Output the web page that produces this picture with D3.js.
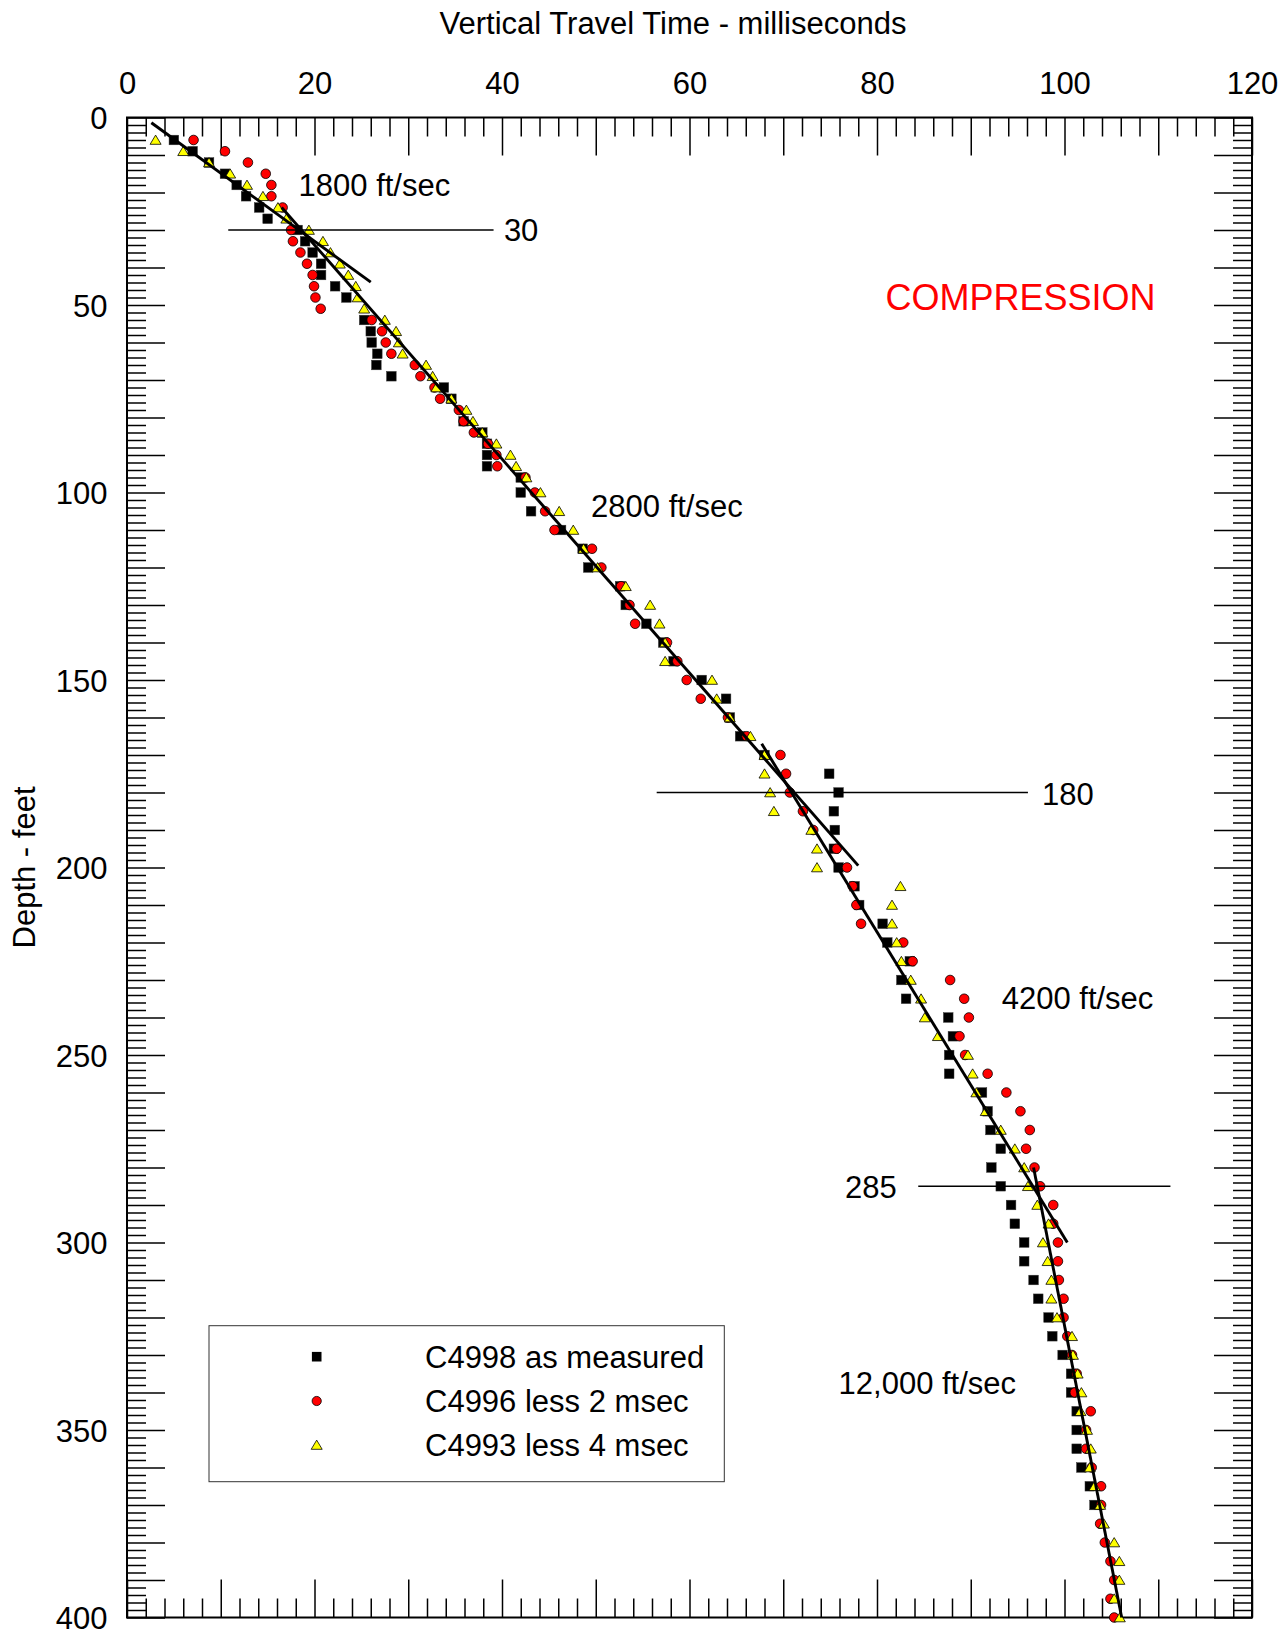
<!DOCTYPE html>
<html>
<head>
<meta charset="utf-8">
<script src="https://cdn.jsdelivr.net/npm/d3@7"></script>
<style>
  html, body { margin: 0; padding: 0; background: #ffffff; }
  svg { display: block; font-family: "Liberation Sans", Arial, Helvetica, sans-serif; }
</style>
</head>
<body>
<svg id="chart" width="1288" height="1631"></svg>
<script>
// ---- Data: [depth (ft), vertical travel time (ms)] ----
const c4998 = [
  [6,5.0],[9,7.0],[12,8.75],[15,10.45],[18,11.7],[21,12.7],[24,14.1],[27,15.0],[30,18.2],[33,19.0],
  [36,19.8],[39,20.7],[42,20.7],[45,22.2],[48,23.4],[54,25.3],[57,26.0],[60,26.1],[63,26.7],[66,26.6],
  [69,28.2],[72,33.8],[75,34.6],[81,35.9],[84,37.9],[87,38.4],[90,38.4],[93,38.4],[96,42.0],[100,42.0],
  [105,43.1],[110,46.3],[115,48.6],[120,49.2],[125,52.6],[130,53.2],[135,55.4],[140,57.2],[145,58.3],[150,61.3],
  [155,63.9],[160,64.3],[165,65.4],[170,68.0],[175,74.9],[180,75.9],[185,75.4],[190,75.5],[195,75.4],[200,75.9],
  [205,77.6],[210,78.1],[215,80.6],[220,81.1],[225,83.5],[230,82.6],[235,83.1],[240,87.6],[245,88.1],[250,87.7],
  [255,87.7],[260,91.2],[265,91.8],[270,92.1],[275,93.2],[280,92.2],[285,93.2],[290,94.3],[295,94.7],[300,95.7],
  [305,95.7],[310,96.7],[315,97.2],[320,98.3],[325,98.7],[330,99.8],[335,100.7],[340,100.7],[345,101.3],[350,101.3],
  [355,101.3],[360,101.8],[365,102.7],[370,103.2]
];

const c4996 = [
  [6,7.1],[9,10.45],[12,12.9],[15,14.8],[18,15.4],[21,15.4],[24,16.6],[30,17.5],[33,17.7],[36,18.5],
  [39,19.2],[42,19.8],[45,19.95],[48,20.1],[51,20.66],[54,26.1],[57,27.2],[60,27.6],[63,28.2],[66,30.7],
  [69,31.3],[72,32.8],[75,33.4],[78,35.4],[81,35.9],[84,37.0],[87,38.5],[90,39.4],[93,39.5],[96,42.5],
  [100,43.5],[105,44.6],[110,45.6],[115,49.6],[120,50.6],[125,52.7],[130,53.6],[135,54.2],[140,57.6],[145,58.7],
  [150,59.7],[155,61.2],[160,64.1],[165,66.1],[170,69.7],[175,70.3],[180,70.7],[185,72.1],[190,73.2],[195,75.7],
  [200,76.8],[205,77.4],[210,77.8],[215,78.3],[220,82.8],[225,83.8],[230,87.8],[235,89.3],[240,89.8],[245,88.8],
  [250,89.4],[255,91.8],[260,93.8],[265,95.3],[270,96.3],[275,95.9],[280,96.8],[285,97.4],[290,98.8],[295,98.8],
  [300,99.3],[305,99.3],[310,99.4],[315,99.9],[320,99.9],[325,100.3],[330,100.8],[335,101.3],[340,101.1],[345,102.8],
  [350,102.3],[355,102.3],[360,102.9],[365,103.9],[370,103.9],[375,103.8],[380,104.3],[385,104.9],[390,105.3],[395,104.9],
  [400,105.3]
];

const c4993 = [
  [6,3.05],[9,6.0],[12,8.75],[15,11.0],[18,12.8],[21,14.5],[24,16.1],[27,17.0],[30,19.4],[33,20.9],
  [36,21.7],[39,22.7],[42,23.6],[45,24.4],[48,24.6],[51,25.3],[54,27.5],[57,28.7],[60,29.0],[63,29.4],
  [66,31.9],[69,32.6],[72,33.0],[75,34.6],[78,36.2],[81,36.9],[84,37.9],[87,39.4],[90,40.9],[93,41.5],
  [96,42.6],[100,44.1],[105,46.1],[110,47.6],[115,48.7],[120,50.2],[125,53.2],[130,55.8],[135,56.8],[140,57.4],
  [145,57.4],[150,62.4],[155,62.9],[160,64.3],[165,66.5],[170,68.0],[175,68.0],[180,68.6],[185,69.0],[190,73.0],
  [195,73.6],[200,73.6],[205,82.5],[210,81.6],[215,81.6],[220,82.1],[225,82.6],[230,83.6],[235,84.7],[240,85.1],
  [245,86.5],[250,89.7],[255,90.2],[260,90.6],[265,91.6],[270,93.2],[275,94.7],[280,95.7],[285,96.1],[290,97.1],
  [295,98.3],[300,97.7],[305,98.2],[310,98.6],[315,98.6],[320,99.2],[325,100.8],[330,100.9],[335,101.4],[340,101.8],
  [345,101.7],[350,102.4],[355,102.8],[360,102.7],[365,103.2],[370,103.8],[375,104.2],[380,105.3],[385,105.85],[390,105.85],
  [395,105.3],[400,105.9]
];

const seriesNames = ["C4998 as measured", "C4996 less 2 msec", "C4993 less 4 msec"];

// Interval velocity fits: [time (ms), depth (ft)] end points
const fitNames = ["1800 ft/sec", "2800 ft/sec", "4200 ft/sec", "12,000 ft/sec"];
const fitLines = [
  [[2.6, 1.4], [26.0, 43.9]],
  [[16.5, 24.0], [78.0, 199.5]],
  [[67.7, 167.0], [100.3, 300.0]],
  [[96.7, 280.0], [106.1, 400.0]]
];

// Layer boundaries (ft) and the time span each marker line covers (ms)
const boundaryDepths = [30, 180, 285];
const boundarySpans = [[10.8, 39.1], [56.5, 96.1], [84.4, 111.3]];

// Axis tick labels
const timeTickLabels = [0, 20, 40, 60, 80, 100, 120];
const depthTickLabels = [0, 50, 100, 150, 200, 250, 300, 350, 400];

// ---- Layout ----
const FONT = 31;
const plot = { left: 127, right: 1252, top: 117.5, bottom: 1617.5 };

const x = d3.scaleLinear().domain([0, 120]).range([plot.left, plot.right]);
const y = d3.scaleLinear().domain([0, 400]).range([plot.top, plot.bottom]);

const svg = d3.select("#chart");
svg.append("rect").attr("width", 1288).attr("height", 1631).attr("fill", "#ffffff");

// ---- Axes: inward ticks on all four sides ----
function styleAxis(g) {
  g.select(".domain").remove();
  g.attr("font-family", null).attr("font-size", null);
  g.selectAll(".tick line").attr("stroke", "#000").attr("stroke-width", 1.5);
  g.selectAll(".tick text").attr("fill", "#000").attr("font-size", FONT);
}

const minorTime = d3.range(0, 121, 2).filter(v => v % 10 !== 0);
const majorTime = d3.range(0, 121, 10);
const minorDepth = d3.range(0, 401, 2).filter(v => v % 10 !== 0);
const majorDepth = d3.range(0, 401, 10);

// top
svg.append("g").attr("transform", `translate(0,${plot.top})`)
  .call(d3.axisTop(x).tickValues(minorTime).tickSize(-19).tickFormat(""))
  .call(styleAxis);
svg.append("g").attr("transform", `translate(0,${plot.top})`)
  .call(d3.axisTop(x).tickValues(majorTime).tickSize(-38).tickPadding(23.5)
    .tickFormat(v => timeTickLabels.includes(v) ? String(v) : ""))
  .call(styleAxis);

// bottom
svg.append("g").attr("transform", `translate(0,${plot.bottom})`)
  .call(d3.axisBottom(x).tickValues(minorTime).tickSize(-19).tickFormat(""))
  .call(styleAxis);
svg.append("g").attr("transform", `translate(0,${plot.bottom})`)
  .call(d3.axisBottom(x).tickValues(majorTime).tickSize(-38).tickFormat(""))
  .call(styleAxis);

// left
svg.append("g").attr("transform", `translate(${plot.left},0)`)
  .call(d3.axisLeft(y).tickValues(minorDepth).tickSize(-19).tickFormat(""))
  .call(styleAxis);
svg.append("g").attr("transform", `translate(${plot.left},0)`)
  .call(d3.axisLeft(y).tickValues(majorDepth).tickSize(-38).tickPadding(19.5)
    .tickFormat(v => depthTickLabels.includes(v) ? String(v) : ""))
  .call(styleAxis)
  .call(g => g.selectAll(".tick text").attr("dy", "0.36em"));

// right
svg.append("g").attr("transform", `translate(${plot.right},0)`)
  .call(d3.axisRight(y).tickValues(minorDepth).tickSize(-19).tickFormat(""))
  .call(styleAxis);
svg.append("g").attr("transform", `translate(${plot.right},0)`)
  .call(d3.axisRight(y).tickValues(majorDepth).tickSize(-38).tickFormat(""))
  .call(styleAxis);

// frame
svg.append("rect")
  .attr("x", plot.left).attr("y", plot.top)
  .attr("width", plot.right - plot.left).attr("height", plot.bottom - plot.top)
  .attr("fill", "none").attr("stroke", "#000").attr("stroke-width", 2);

// axis titles
svg.append("text")
  .attr("x", 673).attr("y", 33.5)
  .attr("text-anchor", "middle").attr("font-size", FONT)
  .text("Vertical Travel Time - milliseconds");

svg.append("text")
  .attr("transform", `translate(35,${(plot.top + plot.bottom) / 2}) rotate(-90)`)
  .attr("text-anchor", "middle").attr("font-size", FONT)
  .text("Depth - feet");

// ---- Markers ----
const SQ = 9.6, CR = 4.8, TW = 11, TH = 9.2;
const triPath = `M0,${-TH / 2 - 0.3}L${TW / 2},${TH / 2 - 0.3}L${-TW / 2},${TH / 2 - 0.3}Z`;

function drawSquares(g, data) {
  g.selectAll("rect").data(data).join("rect")
    .attr("x", d => x(d[1]) - SQ / 2).attr("y", d => y(d[0]) - SQ / 2)
    .attr("width", SQ).attr("height", SQ)
    .attr("fill", "#000").attr("stroke", "#333").attr("stroke-width", 0.5);
}
function drawCircles(g, data) {
  g.selectAll("circle").data(data).join("circle")
    .attr("cx", d => x(d[1])).attr("cy", d => y(d[0])).attr("r", CR)
    .attr("fill", "#ff0000").attr("stroke", "#000").attr("stroke-width", 0.8);
}
function drawTriangles(g, data) {
  g.selectAll("path").data(data).join("path")
    .attr("transform", d => `translate(${x(d[1])},${y(d[0])})`)
    .attr("d", triPath)
    .attr("fill", "#ffff00").attr("stroke", "#000").attr("stroke-width", 0.8)
    .attr("stroke-linejoin", "miter");
}

drawSquares(svg.append("g"), c4998);
drawCircles(svg.append("g"), c4996);
drawTriangles(svg.append("g"), c4993);

// ---- Layer boundary lines ----
svg.append("g").selectAll("line").data(boundaryDepths).join("line")
  .attr("x1", (d, i) => x(boundarySpans[i][0]))
  .attr("x2", (d, i) => x(boundarySpans[i][1]))
  .attr("y1", d => y(d)).attr("y2", d => y(d))
  .attr("stroke", "#000").attr("stroke-width", 1.5);

// ---- Velocity fit lines ----
const lineGen = d3.line().x(d => x(d[0])).y(d => y(d[1]));
svg.append("g").selectAll("path").data(fitLines).join("path")
  .attr("d", lineGen)
  .attr("fill", "none").attr("stroke", "#000").attr("stroke-width", 2.9)
  .attr("stroke-linecap", "butt");

// ---- Annotations (time, depth of baseline) ----
const notes = [
  { text: fitNames[0], t: 18.3, d: 20.85, anchor: "start" },
  { text: String(boundaryDepths[0]), t: 40.2, d: 32.9, anchor: "start" },
  { text: fitNames[1], t: 49.5, d: 106.4, anchor: "start" },
  { text: String(boundaryDepths[1]), t: 97.6, d: 183.2, anchor: "start" },
  { text: fitNames[2], t: 93.3, d: 237.6, anchor: "start" },
  { text: String(boundaryDepths[2]), t: 82.1, d: 288.0, anchor: "end" },
  { text: fitNames[3], t: 75.9, d: 340.4, anchor: "start" }
];
svg.append("g").selectAll("text").data(notes).join("text")
  .attr("x", d => x(d.t)).attr("y", d => y(d.d))
  .attr("text-anchor", d => d.anchor)
  .attr("font-size", FONT).attr("fill", "#000")
  .text(d => d.text);

svg.append("text")
  .attr("x", x(80.9)).attr("y", y(51.2))
  .attr("font-size", 36).attr("fill", "#ff0000")
  .text("COMPRESSION");

// ---- Legend ----
const legend = svg.append("g");
legend.append("rect")
  .attr("x", 209).attr("y", 1325.7).attr("width", 515.3).attr("height", 156)
  .attr("fill", "#fff").attr("stroke", "#333").attr("stroke-width", 1);

const legendRows = [1356.7, 1401, 1445];
const mx = 316.7;
legend.append("rect")
  .attr("x", mx - SQ / 2).attr("y", legendRows[0] - SQ / 2).attr("width", SQ).attr("height", SQ)
  .attr("fill", "#000");
legend.append("circle")
  .attr("cx", mx).attr("cy", legendRows[1]).attr("r", CR - 0.2)
  .attr("fill", "#ff0000").attr("stroke", "#000").attr("stroke-width", 0.8);
legend.append("path")
  .attr("transform", `translate(${mx},${legendRows[2]})`).attr("d", triPath)
  .attr("fill", "#ffff00").attr("stroke", "#000").attr("stroke-width", 0.8);

legend.selectAll("text.lbl").data(seriesNames).join("text")
  .attr("class", "lbl")
  .attr("x", 425).attr("y", (d, i) => legendRows[i] + 11.3)
  .attr("font-size", FONT).attr("fill", "#000")
  .text(d => d);
</script>
</body>
</html>
